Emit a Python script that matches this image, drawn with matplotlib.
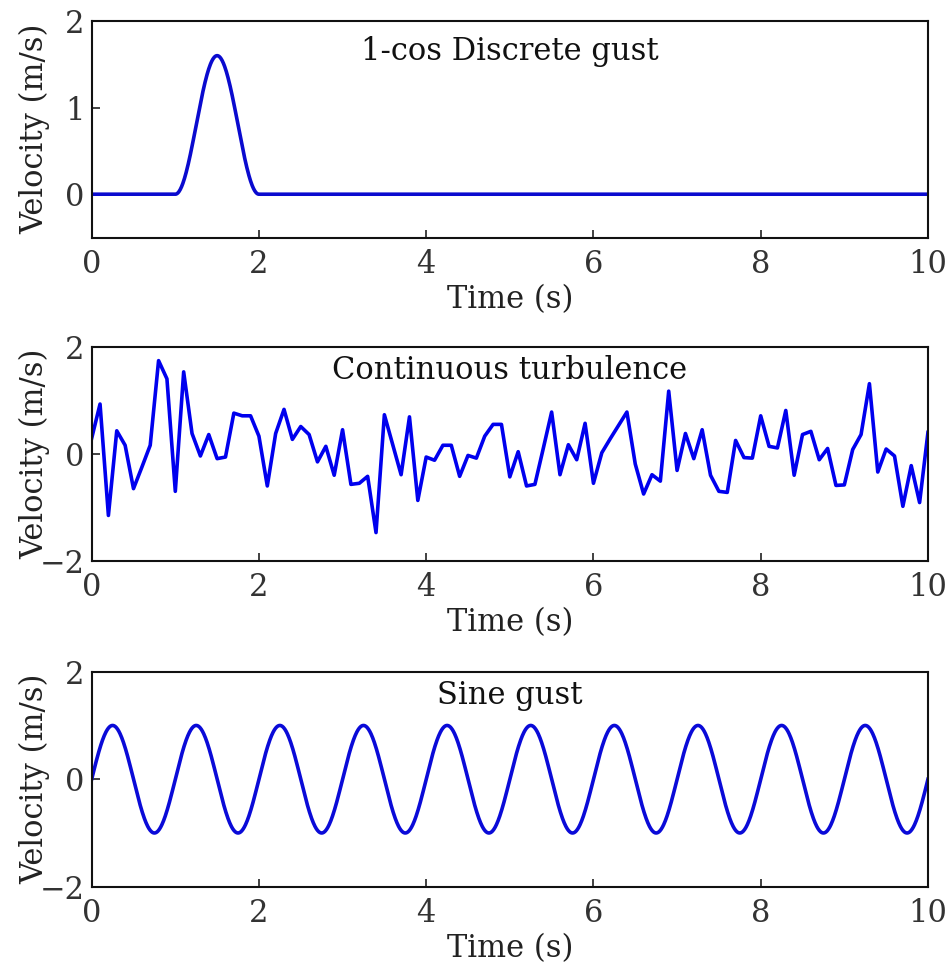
import numpy as np
import matplotlib
matplotlib.use("Agg")
import matplotlib.pyplot as plt

# ---- data ----
# 1-cos discrete gust: start, length, peak
gust_start = 1.0
gust_length = 1.0
gust_peak = 1.6

# continuous turbulence, sampled every 0.1 s
turb_t = np.arange(101) / 10.0
turb_v = [0.29, 0.93, -1.15, 0.43, 0.16, -0.65, -0.25, 0.16, 1.74, 1.40,
          -0.70, 1.53, 0.38, -0.04, 0.36, -0.09, -0.06, 0.76, 0.71, 0.71,
          0.33, -0.60, 0.38, 0.83, 0.27, 0.51, 0.36, -0.15, 0.14, -0.40,
          0.45, -0.57, -0.55, -0.42, -1.47, 0.73, 0.17, -0.39, 0.69, -0.87,
          -0.06, -0.12, 0.16, 0.16, -0.42, -0.03, -0.08, 0.33, 0.55, 0.55,
          -0.43, 0.04, -0.60, -0.57, 0.10, 0.78, -0.39, 0.17, -0.11, 0.57,
          -0.55, 0.02, 0.28, 0.53, 0.78, -0.19, -0.75, -0.39, -0.51, 1.17,
          -0.31, 0.38, -0.09, 0.45, -0.40, -0.70, -0.72, 0.25, -0.07, -0.08,
          0.71, 0.14, 0.11, 0.81, -0.40, 0.36, 0.42, -0.11, 0.10, -0.59,
          -0.58, 0.08, 0.36, 1.31, -0.34, 0.09, -0.04, -0.98, -0.22, -0.91,
          0.40]

# sine gust: amplitude and period
sine_amp = 1.0
sine_period = 1.0

titles = ["1-cos Discrete gust", "Continuous turbulence", "Sine gust"]
ylims = [(-0.5, 2), (-2, 2), (-2, 2)]
yticks = [[0, 1, 2], [-2, 0, 2], [-2, 0, 2]]
xticks = [0, 2, 4, 6, 8, 10]

t = np.linspace(0, 10, 2001)
in_gust = (t >= gust_start) & (t <= gust_start + gust_length)
gust_v = np.where(in_gust, gust_peak / 2 * (1 - np.cos(2 * np.pi * (t - gust_start) / gust_length)), 0.0)
sine_v = sine_amp * np.sin(2 * np.pi * t / sine_period)

plt.rcParams['font.family'] = ['DejaVu Serif']
plt.rcParams['font.size'] = 22
plt.rcParams['axes.unicode_minus'] = True

fig = plt.figure(figsize=(9.5, 9.69), dpi=100)
left, width = 0.0965, 0.8803
bottoms = [0.7549, 0.4211, 0.0849]
heights = [0.2234, 0.2211, 0.2219]

series = [(t, gust_v, '#0a0acf'), (turb_t, turb_v, '#0000ee'), (t, sine_v, '#0a0ad8')]

for i in range(3):
    ax = fig.add_axes([left, bottoms[i], width, heights[i]])
    x, y, c = series[i]
    ax.plot(x, y, color=c, lw=2.6)
    ax.set_xlim(0, 10)
    ax.set_ylim(*ylims[i])
    ax.set_xticks(xticks)
    ax.set_yticks(yticks[i])
    ax.tick_params(direction='in', length=6, width=1.3, top=False, right=False,
                   colors='#333333', labelcolor='#333333')
    ax.tick_params(axis='x', pad=8)
    ax.tick_params(axis='y', pad=5)
    for s in ax.spines.values():
        s.set_linewidth(1.5)
        s.set_color('#111111')
    ax.set_xlabel("Time (s)", color='#222222', labelpad=3)
    ax.set_ylabel("Velocity (m/s)", color='#222222')
    ax.yaxis.set_label_coords(-0.05, 0.5)
    ax.text(0.5, 0.86 if i == 0 else 0.89, titles[i], transform=ax.transAxes,
            ha='center', va='center', color='#111111')

fig.savefig("out.png", dpi=100)
